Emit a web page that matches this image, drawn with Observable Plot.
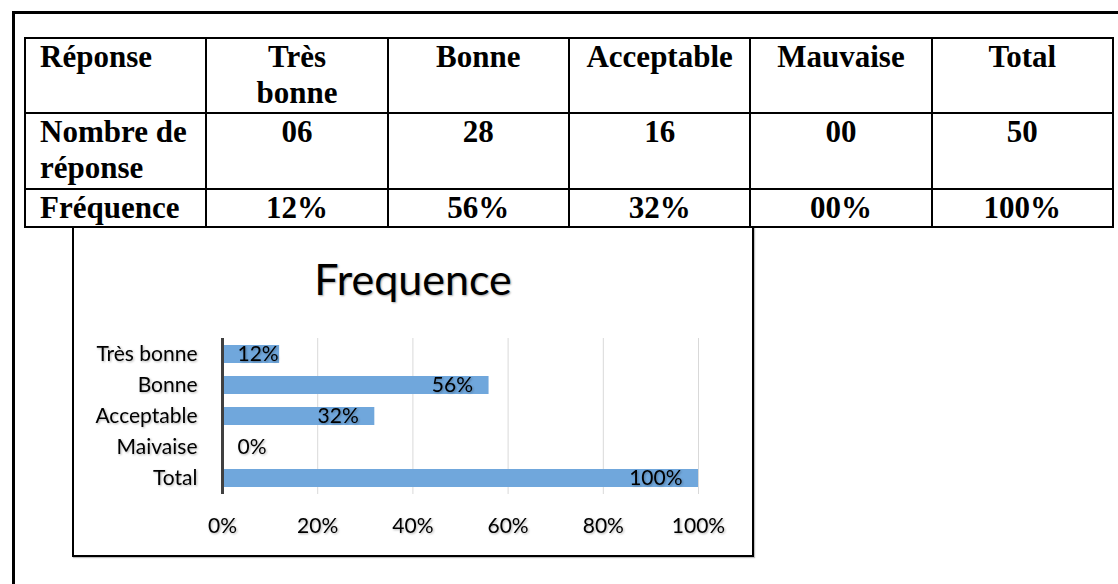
<!DOCTYPE html>
<html>
<head>
<meta charset="utf-8">
<script src="https://cdn.jsdelivr.net/npm/d3@7"></script>
<script src="https://cdn.jsdelivr.net/npm/@observablehq/plot@0.6"></script>
<style>
  html, body { margin: 0; padding: 0; background: #fff; }
  body { width: 1118px; height: 584px; position: relative; overflow: hidden; }
  .frame-top { position: absolute; left: 12px; top: 11px; width: 1106px; height: 3px; background: #000; }
  .frame-left { position: absolute; left: 12px; top: 11px; width: 3px; height: 573px; background: #000; }
  table.survey {
    position: absolute; left: 24px; top: 37px; width: 1090px;
    border-collapse: collapse; table-layout: fixed;
    font-family: "Liberation Serif", "Times New Roman", serif; font-weight: bold;
    font-size: 31px; line-height: 36px; color: #000;
  }
  table.survey td {
    border: 2px solid #000; padding: 0 14px; vertical-align: top;
    text-align: center; white-space: pre-line;
  }
  table.survey td.head { text-align: left; }
  table.survey tr.r1 td { height: 73px; }
  table.survey tr.r2 td { height: 74px; }
  table.survey tr.r3 td { height: 35px; }
  .chart-box {
    position: absolute; left: 72px; top: 226px; width: 682px; height: 331px;
    box-sizing: border-box; border: 2px solid #000; background: #fff;
    box-shadow: 1px 1px 1px rgba(0,0,0,0.25);
  }
  .chart-title {
    position: absolute; left: 0; top: 29px; width: 100%; text-align: center;
    font-family: Lato, "Open Sans", sans-serif; font-size: 43px; line-height: 43px;
    color: #000; text-shadow: 1px 1px 2px rgba(0,0,0,0.35);
  }
  #plot { position: absolute; left: 0; top: 72px; }
</style>
</head>
<body>
<div class="frame-top"></div>
<div class="frame-left"></div>
<table class="survey" id="survey"></table>
<div class="chart-box">
  <div class="chart-title">Frequence</div>
  <div id="plot"></div>
</div>
<script>
// Survey table rows
const rowLabels = ["Réponse", "Nombre de\nréponse", "Fréquence"];
const reponses = ["Très\nbonne", "Bonne", "Acceptable", "Mauvaise", "Total"];
const nombres = ["06", "28", "16", "00", "50"];
const frequences = ["12%", "56%", "32%", "00%", "100%"];

// Bar chart series
const categories = ["Très bonne", "Bonne", "Acceptable", "Maivaise", "Total"];
const values = [12, 56, 32, 0, 100];
const xTicks = [0, 20, 40, 60, 80, 100];

// Build the table
const table = d3.select("#survey");
[reponses, nombres, frequences].forEach((cells, i) => {
  const tr = table.append("tr").attr("class", "r" + (i + 1));
  tr.append("td").attr("class", "head").text(rowLabels[i]);
  cells.forEach(c => tr.append("td").text(c));
});

// Bar chart
const rows = categories.map((cat, i) => ({cat, value: values[i]}));
const pct = d => d.value + "%";

const chart = Plot.plot({
  width: 678,
  height: 250,
  marginLeft: 148,
  marginRight: 54,
  marginTop: 38,
  marginBottom: 56,
  style: {fontFamily: "Lato, 'Open Sans', sans-serif", fontSize: "21px", color: "#000", background: "transparent", overflow: "visible"},
  x: {domain: [0, 100], ticks: xTicks, tickFormat: d => d + "%", tickSize: 0, tickPadding: 24, label: null},
  y: {domain: categories, paddingInner: 0.42, paddingOuter: 0.21, tickSize: 0, tickPadding: 25, label: null},
  marks: [
    Plot.ruleX(xTicks, {stroke: "#d9d9d9", strokeWidth: 1}),
    Plot.barX(rows, {x: "value", y: "cat", fill: "#70a7dc"}),
    Plot.ruleX([0], {stroke: "#404040", strokeWidth: 3}),
    Plot.text(rows.filter(d => d.value >= 20), {x: "value", y: "cat", text: pct, textAnchor: "end", dx: -16, fill: "#000"}),
    Plot.text(rows.filter(d => d.value < 20), {x: 0, y: "cat", text: pct, textAnchor: "start", dx: 15, fill: "#000"})
  ]
});

// Soft drop shadow under the chart texts
const svg = d3.select(chart);
const defs = svg.insert("defs", ":first-child");
defs.append("filter").attr("id", "txtShadow")
  .attr("x", "-20%").attr("y", "-20%").attr("width", "140%").attr("height", "140%")
  .append("feDropShadow")
  .attr("dx", 1).attr("dy", 1).attr("stdDeviation", 1)
  .attr("flood-color", "#000").attr("flood-opacity", 0.3);
svg.selectAll("text").attr("filter", "url(#txtShadow)");

document.getElementById("plot").append(chart);
</script>
</body>
</html>
